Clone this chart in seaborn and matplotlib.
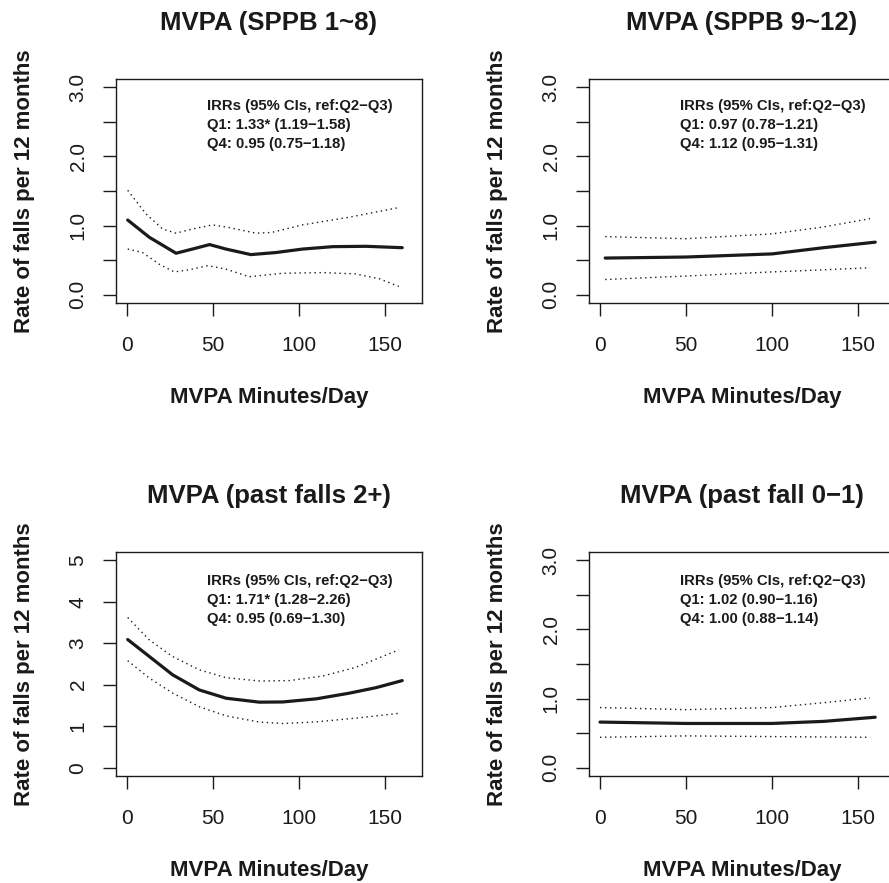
import matplotlib
matplotlib.use("Agg")
import matplotlib.pyplot as plt
import seaborn as sns
import numpy as np

sns.set_style("white")
plt.rcParams['font.family'] = ['Liberation Sans', 'DejaVu Sans']

# ---------------- data ----------------
titles = ["MVPA (SPPB 1~8)", "MVPA (SPPB 9~12)",
          "MVPA (past falls 2+)", "MVPA (past fall 0\u22121)"]

# Panel 1: SPPB 1~8
p1_fit_x = [0.4, 13, 28.5, 38, 48, 57.6, 72, 86.6, 102, 119.6, 139, 160]
p1_fit_y = [1.08, 0.83, 0.60, 0.66, 0.725, 0.66, 0.58, 0.61, 0.66, 0.695, 0.70, 0.68]
p1_up_x = [0.4, 11, 20.7, 28.5, 38, 49.8, 59.5, 75, 84, 102, 129, 158]
p1_up_y = [1.51, 1.17, 0.95, 0.89, 0.95, 1.01, 0.97, 0.89, 0.90, 1.01, 1.12, 1.26]
p1_lo_x = [0.4, 9, 18.8, 27.5, 36, 47, 57.6, 71, 90.5, 113.8, 133, 146.7, 158]
p1_lo_y = [0.66, 0.61, 0.44, 0.33, 0.36, 0.42, 0.37, 0.26, 0.31, 0.32, 0.30, 0.23, 0.12]

# Panel 2: SPPB 9~12
p2_fit_x = [3, 50, 100, 130, 160]
p2_fit_y = [0.53, 0.545, 0.59, 0.68, 0.76]
p2_up_x = [3, 50, 100, 130, 157]
p2_up_y = [0.84, 0.81, 0.88, 0.98, 1.10]
p2_lo_x = [3, 50, 100, 130, 157]
p2_lo_y = [0.22, 0.27, 0.33, 0.36, 0.39]

# Panel 3: past falls 2+
p3_fit_x = [0.4, 13, 26.5, 42, 57.6, 77, 90.5, 110, 129, 144.8, 160]
p3_fit_y = [3.09, 2.68, 2.24, 1.875, 1.675, 1.58, 1.585, 1.66, 1.795, 1.93, 2.10]
p3_up_x = [0.4, 13, 26.5, 42, 57.6, 77, 94.4, 113.8, 133, 158]
p3_up_y = [3.62, 3.08, 2.68, 2.36, 2.17, 2.09, 2.10, 2.21, 2.42, 2.84]
p3_lo_x = [0.4, 13, 26.5, 42, 57.6, 77, 90.5, 110, 133, 158]
p3_lo_y = [2.58, 2.16, 1.80, 1.47, 1.25, 1.10, 1.065, 1.105, 1.195, 1.31]

# Panel 4: past fall 0-1
p4_fit_x = [0, 50, 100, 130, 160]
p4_fit_y = [0.66, 0.64, 0.64, 0.67, 0.73]
p4_up_x = [0, 50, 100, 130, 157]
p4_up_y = [0.87, 0.84, 0.87, 0.94, 1.01]
p4_lo_x = [0, 50, 100, 157]
p4_lo_y = [0.44, 0.46, 0.45, 0.44]

annotations = [
    ["IRRs (95% CIs, ref:Q2\u2212Q3)", "Q1: 1.33* (1.19\u22121.58)", "Q4: 0.95 (0.75\u22121.18)"],
    ["IRRs (95% CIs, ref:Q2\u2212Q3)", "Q1: 0.97 (0.78\u22121.21)", "Q4: 1.12 (0.95\u22121.31)"],
    ["IRRs (95% CIs, ref:Q2\u2212Q3)", "Q1: 1.71* (1.28\u22122.26)", "Q4: 0.95 (0.69\u22121.30)"],
    ["IRRs (95% CIs, ref:Q2\u2212Q3)", "Q1: 1.02 (0.90\u22121.16)", "Q4: 1.00 (0.88\u22121.14)"],
]

x_ticks = [0, 50, 100, 150]
y_ticks_a = [0.0, 0.5, 1.0, 1.5, 2.0, 2.5, 3.0]
y_labels_a = ["0.0", "", "1.0", "", "2.0", "", "3.0"]
y_ticks_b = [0, 1, 2, 3, 4, 5]
y_labels_b = ["0", "1", "2", "3", "4", "5"]

xlabel = "MVPA Minutes/Day"
ylabel = "Rate of falls per 12 months"

panels = [
    (p1_fit_x, p1_fit_y, p1_up_x, p1_up_y, p1_lo_x, p1_lo_y, y_ticks_a, y_labels_a, (-0.12, 3.12)),
    (p2_fit_x, p2_fit_y, p2_up_x, p2_up_y, p2_lo_x, p2_lo_y, y_ticks_a, y_labels_a, (-0.12, 3.12)),
    (p3_fit_x, p3_fit_y, p3_up_x, p3_up_y, p3_lo_x, p3_lo_y, y_ticks_b, y_labels_b, (-0.2, 5.2)),
    (p4_fit_x, p4_fit_y, p4_up_x, p4_up_y, p4_lo_x, p4_lo_y, y_ticks_a, y_labels_a, (-0.12, 3.12)),
]

# ---------------- figure ----------------
W, H = 889, 883
fig = plt.figure(figsize=(W / 100, H / 100), dpi=100)
fig.patch.set_facecolor("white")

lefts = [116, 589, 116, 589]
tops = [79, 79, 552, 552]
bw, bh = 306, 224
ink = "#1a1a1a"
dots = (0, (1, 2.6))

for i, (fx, fy, ux, uy, lx, ly, yt, yl, ylim) in enumerate(panels):
    ax = fig.add_axes([lefts[i] / W, 1 - (tops[i] + bh) / H, bw / W, bh / H])
    ax.set_facecolor("white")
    sns.lineplot(x=fx, y=fy, ax=ax, color=ink, lw=2.3, estimator=None, sort=False)
    sns.lineplot(x=ux, y=uy, ax=ax, color=ink, lw=1.0, linestyle=dots,
                 estimator=None, sort=False)
    sns.lineplot(x=lx, y=ly, ax=ax, color=ink, lw=1.0, linestyle=dots,
                 estimator=None, sort=False)
    ax.set_xlim(-6.4, 171.5)
    ax.set_ylim(*ylim)
    ax.set_xticks(x_ticks)
    ax.set_xticklabels([str(t) for t in x_ticks])
    ax.set_yticks(yt)
    ax.set_yticklabels(yl, rotation=90, va="center")
    ax.tick_params(axis="both", direction="out", length=9.5, width=1.0, color=ink,
                   labelsize=15, labelcolor=ink, bottom=True, left=True,
                   top=False, right=False)
    ax.tick_params(axis="x", pad=14)
    ax.tick_params(axis="y", pad=11)
    for s in ax.spines.values():
        s.set_visible(True)
        s.set_color(ink)
        s.set_linewidth(1.0)
    ax.set_title(titles[i], fontsize=18.5, fontweight="bold", color=ink, y=1.25,
                 va="center", pad=0)
    ax.set_xlabel(xlabel, fontsize=16, fontweight="bold", color=ink)
    ax.xaxis.set_label_coords(0.5, -0.424)
    ax.xaxis.label.set_va("center")
    ax.set_ylabel(ylabel, fontsize=16, fontweight="bold", color=ink)
    ax.yaxis.set_label_coords(-0.30, 0.5)
    ax.yaxis.label.set_va("center")
    ys = [0.878, 0.793, 0.708] if i < 2 else [0.872, 0.787, 0.702]
    for t, yy in zip(annotations[i], ys):
        ax.text(0.297, yy, t, transform=ax.transAxes, fontsize=10.7, fontweight="bold",
                color=ink, ha="left", va="center")

fig.savefig("out.png", dpi=100, facecolor="white")
